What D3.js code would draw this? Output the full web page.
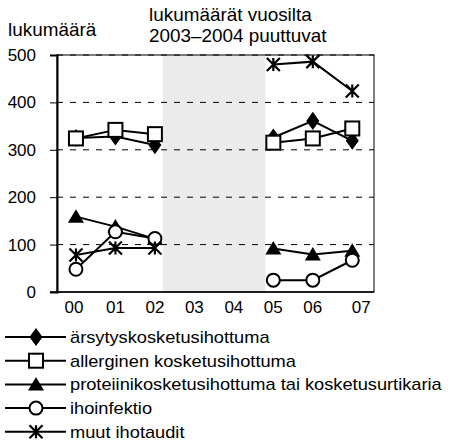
<!DOCTYPE html>
<html>
<head>
<meta charset="utf-8">
<script src="https://cdn.jsdelivr.net/npm/d3@7"></script>
<style>
  body { margin: 0; background: #fff; }
  svg text { font-family: "Liberation Sans", Arial, sans-serif; fill: #000; }
</style>
</head>
<body>
<svg width="450" height="447" font-family="Liberation Sans, Arial, sans-serif"></svg>
<script>
// year labels (03 and 04 missing)
const years = ['00', '01', '02', '03', '04', '05', '06', '07'];

// values per series, null = no data
const arsytys   = [325, 328, 310, null, null, 326, 361, 319];
const allerg    = [324, 342, 333, null, null, 315, 324, 345];
const proteiini = [159, 138, 112, null, null, 92, 79, 87];
const infektio  = [48, 127, 113, null, null, 25, 25, 67];
const muut      = [78, 93, 93, null, null, 480, 486, 424];

const seriesNames = [
  'ärsytyskosketusihottuma',
  'allerginen kosketusihottuma',
  'proteiinikosketusihottuma tai kosketusurtikaria',
  'ihoinfektio',
  'muut ihotaudit'
];
const seriesValues = [arsytys, allerg, proteiini, infektio, muut];
const markers = ['diamond', 'square', 'triangle', 'circle', 'star'];

const yTicks = [0, 100, 200, 300, 400, 500];

const svg = d3.select('svg');

const plotL = 57, plotR = 374, plotT = 55, plotB = 292;

// x is linear over index so the gap can sit between points
const x = d3.scaleLinear().domain([-0.48, 7.55]).range([plotL, plotR]);
const y = d3.scaleLinear().domain([0, 500]).range([plotB, plotT]);

// grey "missing years" band
svg.append('rect')
  .attr('x', x(2.2))
  .attr('y', plotT)
  .attr('width', x(4.8) - x(2.2))
  .attr('height', plotB - plotT)
  .attr('fill', '#ebebeb');

// dashed grid
svg.selectAll('.grid')
  .data(yTicks.filter(d => d > 0))
  .enter().append('line')
  .attr('x1', plotL).attr('x2', plotR)
  .attr('y1', d => y(d)).attr('y2', d => y(d))
  .attr('stroke', '#000')
  .attr('stroke-width', 1)
  .attr('stroke-dasharray', '6,7');

// frame
svg.append('rect')
  .attr('x', plotL).attr('y', plotT)
  .attr('width', plotR - plotL).attr('height', plotB - plotT)
  .attr('fill', 'none')
  .attr('stroke', '#000')
  .attr('stroke-width', 1);

// y axis
const yAxis = svg.append('g')
  .attr('transform', `translate(${plotL},0)`)
  .call(d3.axisLeft(y).tickValues(yTicks).tickSize(7).tickPadding(14));
yAxis.select('.domain').attr('stroke-width', 2);
yAxis.attr('font-family', null);
yAxis.selectAll('text')
  .style('font-size', '17px');

// x axis: bottom line + labels
svg.append('line')
  .attr('x1', plotL - 7).attr('x2', plotR)
  .attr('y1', plotB).attr('y2', plotB)
  .attr('stroke', '#000').attr('stroke-width', 1.5);

svg.selectAll('.xlab')
  .data(years)
  .enter().append('text')
  .attr('x', (d, i) => x(i) + (i === 7 ? 9 : (i === 0 ? -2 : 0)))
  .attr('y', plotB + 21)
  .attr('text-anchor', 'middle')
  .style('font-size', '17px')
  .text(d => d);

// titles
function title(tx, ty, str) {
  svg.append('text')
    .attr('transform', `translate(${tx},${ty}) scale(1.08,1)`)
    .style('font-size', '17.5px')
    .text(str);
}
title(8, 36, 'lukumäärä');
title(149, 21, 'lukumäärät vuosilta');
title(149, 42, '2003–2004 puuttuvat');

// marker drawing
function drawMarker(g, type, cx, cy) {
  if (type === 'diamond') {
    g.append('path')
      .attr('d', d3.symbol().type(d3.symbolDiamond).size(95)())
      .attr('transform', `translate(${cx},${cy}) scale(1.25,1)`)
      .attr('fill', '#000');
  } else if (type === 'square') {
    g.append('rect')
      .attr('x', cx - 7).attr('y', cy - 7)
      .attr('width', 14).attr('height', 14)
      .attr('fill', '#fff').attr('stroke', '#000').attr('stroke-width', 2);
  } else if (type === 'triangle') {
    g.append('path')
      .attr('d', `M${cx},${cy - 7.5}L${cx + 8},${cy + 6}L${cx - 8},${cy + 6}Z`)
      .attr('fill', '#000');
  } else if (type === 'circle') {
    g.append('circle')
      .attr('cx', cx).attr('cy', cy).attr('r', 6.5)
      .attr('fill', '#fff').attr('stroke', '#000').attr('stroke-width', 2);
  } else {
    const p = d3.path();
    const r = 6.5;
    p.moveTo(cx - r, cy - r); p.lineTo(cx + r, cy + r);
    p.moveTo(cx + r, cy - r); p.lineTo(cx - r, cy + r);
    p.moveTo(cx, cy - r); p.lineTo(cx, cy + r);
    g.append('path').attr('d', p.toString())
      .attr('stroke', '#000').attr('stroke-width', 2.2).attr('fill', 'none');
  }
}

const line = d3.line()
  .defined(d => d.v !== null)
  .x(d => x(d.i))
  .y(d => y(d.v));

seriesValues.forEach((vals, s) => {
  const pts = vals.map((v, i) => ({ i, v }));
  svg.append('path')
    .datum(pts)
    .attr('d', line)
    .attr('fill', 'none')
    .attr('stroke', '#000')
    .attr('stroke-width', 2);
});

seriesValues.forEach((vals, s) => {
  const g = svg.append('g');
  vals.forEach((v, i) => {
    if (v !== null) drawMarker(g, markers[s], x(i), y(v));
  });
});

// legend
const legend = svg.append('g');
seriesNames.forEach((name, s) => {
  const ly = 337 + s * 23.7;
  legend.append('line')
    .attr('x1', 5).attr('x2', 66)
    .attr('y1', ly).attr('y2', ly)
    .attr('stroke', '#000').attr('stroke-width', 2);
  drawMarker(legend, markers[s], 36, ly);
  legend.append('text')
    .attr('transform', `translate(70,${ly + 6}) scale(1.14,1)`)
    .style('font-size', '16px')
    .text(name);
});
</script>
</body>
</html>
